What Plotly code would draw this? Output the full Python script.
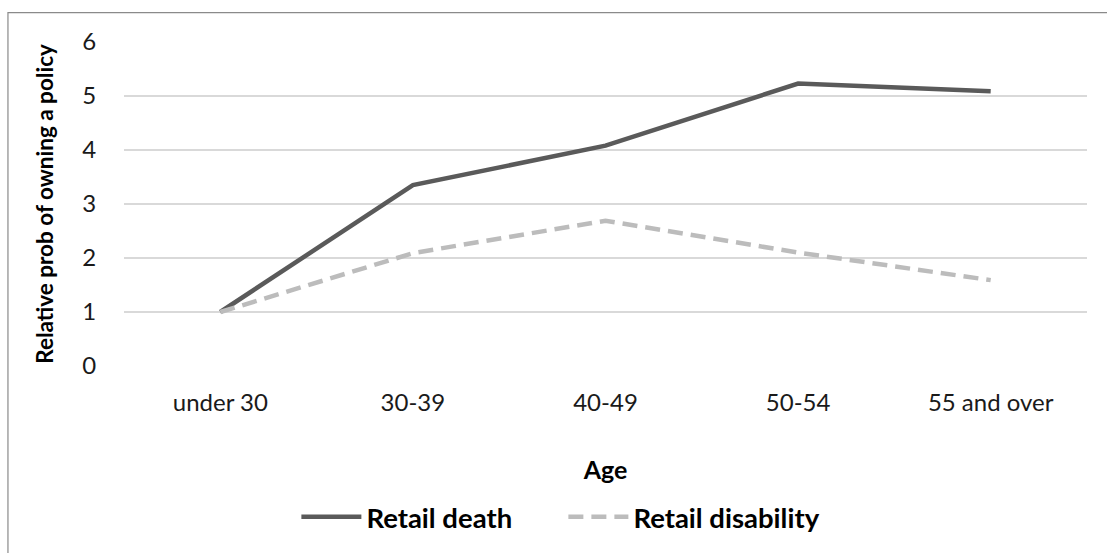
import plotly.graph_objects as go

# Age bands and relative probability of owning a policy
age_groups = ["under 30", "30-39", "40-49", "50-54", "55 and over"]
retail_death = [1.0, 3.35, 4.08, 5.23, 5.09]
retail_disability = [1.0, 2.09, 2.69, 2.10, 1.59]
y_ticks = [0, 1, 2, 3, 4, 5, 6]

FONT = "Lato"

fig = go.Figure()
fig.add_trace(go.Scatter(
    x=age_groups, y=retail_death, name="Retail death", mode="lines",
    line=dict(color="#5a5a5a", width=4.5),
))
fig.add_trace(go.Scatter(
    x=age_groups, y=retail_disability, name="Retail disability", mode="lines",
    line=dict(color="#bcbcbc", width=4.5, dash="15px,8px"),
))

# thin outer frame around the whole chart
fig.add_shape(type="rect", xref="paper", yref="paper",
              x0=-0.1205, x1=1.2, y0=-0.8, y1=1.0904,
              line=dict(color="#8a8a8a", width=1.2), fillcolor="rgba(0,0,0,0)",
              layer="below")

fig.update_layout(
    width=1107, height=553,
    margin=dict(l=124, r=20, t=42, b=187),
    paper_bgcolor="white", plot_bgcolor="white",
    font=dict(family=FONT, size=24, color="#000000"),
    showlegend=True,
    legend=dict(orientation="h", x=0.179, xanchor="left", y=-0.466, yanchor="middle",
                font=dict(family=FONT, size=27.5, color="#000000", weight="bold"),
                itemwidth=60, tracegroupgap=0,
                entrywidth=192, entrywidthmode="pixels"),
    xaxis=dict(
        range=[-0.5, 4.5],
        showgrid=False, showline=False, zeroline=False,
        ticks="outside", ticklen=15, tickcolor="rgba(0,0,0,0)",
        tickfont=dict(family=FONT, size=24, color="#1a1a1a"),
        title=dict(text="Age", font=dict(family=FONT, size=25, weight="bold"), standoff=46),
    ),
    yaxis=dict(
        range=[0, 6], tickvals=y_ticks,
        showgrid=True, gridcolor="#d9d9d9", gridwidth=1.5,
        zeroline=False, showline=False,
        ticks="outside", ticklen=22, tickcolor="rgba(0,0,0,0)",
        tickfont=dict(family=FONT, size=24, color="#1a1a1a"),
        title=dict(text="Relative prob of owning a policy",
                   font=dict(family=FONT, size=22.5, weight="bold"), standoff=22),
    ),
)

fig.write_html("out.html")
